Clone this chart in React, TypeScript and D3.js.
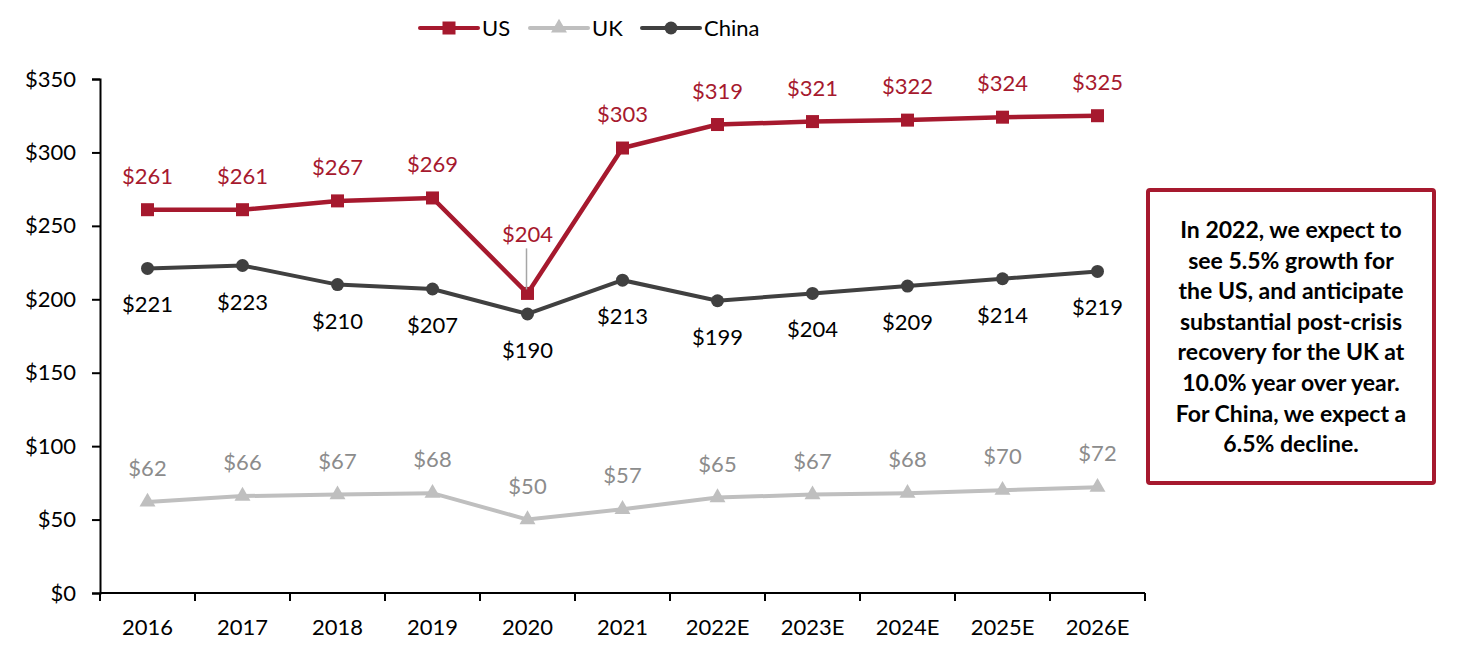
import { useRef, useEffect } from 'react';
import * as d3 from 'd3';

const years = ['2016', '2017', '2018', '2019', '2020', '2021', '2022E', '2023E', '2024E', '2025E', '2026E'];
const usValues = [261, 261, 267, 269, 204, 303, 319, 321, 322, 324, 325];
const ukValues = [62, 66, 67, 68, 50, 57, 65, 67, 68, 70, 72];
const chinaValues = [221, 223, 210, 207, 190, 213, 199, 204, 209, 214, 219];
const yTicks = [0, 50, 100, 150, 200, 250, 300, 350];
const noteLines = [
  'In 2022, we expect to',
  'see 5.5% growth for',
  'the US, and anticipate',
  'substantial post-crisis',
  'recovery for the UK at',
  '10.0% year over year.',
  'For China, we expect a',
  '6.5% decline.',
];

const RED = '#A6192E';
const GREY = '#BFBFBF';
const DARK = '#404040';
const FONT = 'Lato, "Open Sans", sans-serif';
const FS = 22;

export default function App(): JSX.Element {
  const svgRef = useRef<SVGSVGElement | null>(null);
  const width = 1461;
  const height = 663;
  const margin = { top: 79, right: 316, bottom: 70, left: 100 };

  useEffect(() => {
    if (!svgRef.current) return;
    const svg = d3.select(svgRef.current);
    svg.selectAll('*').remove();

    const x = d3.scaleBand<string>()
      .domain(years)
      .range([margin.left, width - margin.right])
      .padding(0);
    const cx = (d: string) => (x(d) ?? 0) + x.bandwidth() / 2;

    const y = d3.scaleLinear()
      .domain([0, 350])
      .range([height - margin.bottom, margin.top]);

    // axes
    const yAxis = svg.append('g')
      .attr('transform', `translate(${margin.left},0)`)
      .call(d3.axisLeft(y).tickValues(yTicks).tickSize(8).tickPadding(16).tickFormat(d => `$${d}`));
    yAxis.select('.domain').attr('stroke', '#000').attr('stroke-width', 2);
    yAxis.selectAll('.tick line').attr('stroke', '#000').attr('stroke-width', 2);
    yAxis.selectAll('.tick text').attr('font-size', FS).attr('font-family', FONT).attr('fill', '#000');

    const xAxisG = svg.append('g')
      .attr('transform', `translate(0,${height - margin.bottom})`);
    xAxisG.append('line')
      .attr('x1', margin.left).attr('x2', width - margin.right)
      .attr('stroke', '#000').attr('stroke-width', 2);
    const edges = years.map(d => x(d) ?? 0).concat([width - margin.right]);
    xAxisG.selectAll('line.tk').data(edges).join('line')
      .attr('class', 'tk')
      .attr('x1', d => d).attr('x2', d => d)
      .attr('y1', 0).attr('y2', 8)
      .attr('stroke', '#000').attr('stroke-width', 2);
    xAxisG.selectAll('text').data(years).join('text')
      .attr('x', d => cx(d)).attr('y', 42)
      .attr('text-anchor', 'middle')
      .attr('font-size', FS).attr('font-family', FONT)
      .text(d => d);

    const line = d3.line<number>()
      .x((_, i) => cx(years[i]))
      .y(d => y(d));

    // UK
    svg.append('path').datum(ukValues)
      .attr('d', line).attr('fill', 'none')
      .attr('stroke', GREY).attr('stroke-width', 4);
    const tri = d3.symbol().type(d3.symbolTriangle).size(110);
    svg.selectAll('path.uk').data(ukValues).join('path')
      .attr('class', 'uk')
      .attr('d', tri)
      .attr('transform', (d, i) => `translate(${cx(years[i])},${y(d)})`)
      .attr('fill', GREY);
    svg.selectAll('text.ukl').data(ukValues).join('text')
      .attr('class', 'ukl')
      .attr('x', (_, i) => cx(years[i])).attr('y', d => y(d) - 26)
      .attr('text-anchor', 'middle')
      .attr('font-size', FS).attr('font-family', FONT).attr('fill', '#8C8C8C')
      .text(d => `$${d}`);

    // China
    svg.append('path').datum(chinaValues)
      .attr('d', line).attr('fill', 'none')
      .attr('stroke', DARK).attr('stroke-width', 4);
    svg.selectAll('circle.cn').data(chinaValues).join('circle')
      .attr('class', 'cn')
      .attr('cx', (_, i) => cx(years[i])).attr('cy', d => y(d))
      .attr('r', 6.5).attr('fill', DARK);
    svg.selectAll('text.cnl').data(chinaValues).join('text')
      .attr('class', 'cnl')
      .attr('x', (_, i) => cx(years[i])).attr('y', d => y(d) + 44)
      .attr('text-anchor', 'middle')
      .attr('font-size', FS).attr('font-family', FONT).attr('fill', '#000')
      .text(d => `$${d}`);

    // US
    svg.append('path').datum(usValues)
      .attr('d', line).attr('fill', 'none')
      .attr('stroke', RED).attr('stroke-width', 4.5);
    svg.selectAll('rect.us').data(usValues).join('rect')
      .attr('class', 'us')
      .attr('x', (_, i) => cx(years[i]) - 6.5).attr('y', d => y(d) - 6.5)
      .attr('width', 13).attr('height', 13).attr('fill', RED);
    // leader line for 2020
    const i20 = years.indexOf('2020');
    svg.append('line')
      .attr('x1', cx(years[i20]) - 1).attr('x2', cx(years[i20]) - 1)
      .attr('y1', y(usValues[i20]) - 45).attr('y2', y(usValues[i20]) - 4)
      .attr('stroke', '#A6A6A6').attr('stroke-width', 1.5);
    svg.selectAll('text.usl').data(usValues).join('text')
      .attr('class', 'usl')
      .attr('x', (_, i) => cx(years[i]))
      .attr('y', (d, i) => i === i20 ? y(d) - 51 : y(d) - 26)
      .attr('text-anchor', 'middle')
      .attr('font-size', FS).attr('font-family', FONT).attr('fill', RED)
      .text(d => `$${d}`);

    // legend
    const legend = [
      { name: 'US', color: RED, x0: 420, mark: 'square' },
      { name: 'UK', color: GREY, x0: 530, mark: 'triangle' },
      { name: 'China', color: DARK, x0: 642, mark: 'circle' },
    ];
    const lg = svg.append('g').attr('transform', 'translate(0,28)');
    legend.forEach(l => {
      lg.append('line').attr('x1', l.x0).attr('x2', l.x0 + 58)
        .attr('stroke', l.color).attr('stroke-width', 4).attr('stroke-linecap', 'round');
      const mx = l.x0 + 29;
      if (l.mark === 'square') {
        lg.append('rect').attr('x', mx - 6.5).attr('y', -6.5).attr('width', 13).attr('height', 13).attr('fill', l.color);
      } else if (l.mark === 'triangle') {
        lg.append('path').attr('d', tri).attr('transform', `translate(${mx},0)`).attr('fill', l.color);
      } else {
        lg.append('circle').attr('cx', mx).attr('r', 6.5).attr('fill', l.color);
      }
      lg.append('text').attr('x', l.x0 + 62).attr('y', 8)
        .attr('font-size', FS).attr('font-family', FONT).attr('fill', '#000')
        .text(l.name);
    });

    // note box
    const box = svg.append('g');
    box.append('rect')
      .attr('x', 1148).attr('y', 190).attr('width', 286).attr('height', 293)
      .attr('fill', '#fff').attr('stroke', RED).attr('stroke-width', 4).attr('rx', 2);
    box.selectAll('text').data(noteLines).join('text')
      .attr('x', 1291).attr('y', (_, i) => 238 + i * 30.6)
      .attr('text-anchor', 'middle')
      .attr('font-size', 23).attr('font-weight', 'bold').attr('font-family', FONT).attr('fill', '#000')
      .text(d => d);
  }, []);

  return (
    <svg
      ref={svgRef}
      width={width}
      height={height}
      style={{ position: 'absolute', left: 0, top: 0, background: '#fff' }}
    />
  );
}
